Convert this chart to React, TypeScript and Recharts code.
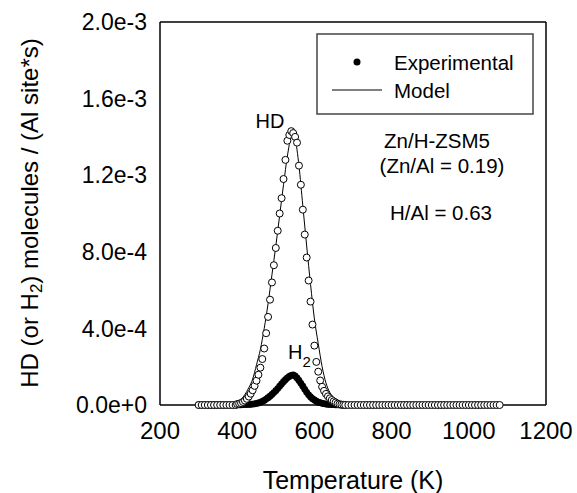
import React from "react";
import { ComposedChart, XAxis, YAxis, Scatter, Line } from "recharts";

// Temperatures of the experimental points (K)
const expTemps = [
  300, 308, 316, 324, 332, 340, 348, 356, 364, 372, 380, 388, 396,
  400, 405, 410, 415, 420, 425, 430, 435, 440, 445,
  450, 455, 460, 465, 470, 475, 480, 485, 490, 495,
  500, 505, 510, 515, 520, 525, 530, 535, 540, 545,
  550, 555, 560, 565, 570, 575, 580, 585, 590, 595,
  600, 605, 610, 615, 620, 625, 630, 635, 640, 645,
  650, 655, 660, 665, 670, 675, 680,
  688, 696, 704, 712, 720, 728, 736, 744, 752, 760, 768, 776, 784, 792, 800,
  808, 816, 824, 832, 840, 848, 856, 864, 872, 880, 888, 896, 904, 912, 920,
  928, 936, 944, 952, 960, 968, 976, 984, 992, 1000, 1008, 1016, 1024, 1032,
  1040, 1048, 1056, 1064, 1072, 1080,
];

// HD experimental (open circles)
const hdValues = [
  0, 0, 0, 0, 0, 0, 0, 0, 0, 0, 0, 0, 0,
  0.000005, 0.000007, 0.00001, 0.000016, 0.000023, 0.000032, 0.000044, 0.000059, 0.000077, 0.0001,
  0.000127, 0.000158, 0.000195, 0.00024, 0.000295, 0.000375, 0.00046, 0.00055, 0.00064, 0.00073,
  0.00082, 0.00091, 0.001, 0.00108, 0.00118, 0.00128, 0.00138, 0.00141, 0.00143, 0.00142,
  0.0014, 0.00137, 0.00125, 0.00115, 0.00102, 0.00089, 0.00077, 0.00065, 0.00054, 0.00042,
  0.00031, 0.000225, 0.000174, 0.000128, 0.000095, 0.000074, 0.000058, 0.000045, 0.000035, 0.000026,
  0.000019, 0.000013, 0.000007, 0.000004, 0.000002, 0.000001, 0,
  0, 0, 0, 0, 0, 0, 0, 0, 0, 0, 0, 0, 0, 0, 0,
  0, 0, 0, 0, 0, 0, 0, 0, 0, 0, 0, 0, 0, 0, 0,
  0, 0, 0, 0, 0, 0, 0, 0, 0, 0, 0, 0, 0, 0,
  0, 0, 0, 0, 0, 0,
];

// H2 experimental (filled circles), same temperatures up to 680 K
const h2Values = [
  0, 0, 0, 0, 0, 0, 0, 0, 0, 0, 0, 0, 0,
  0.000001, 0.000001, 0.000001, 0.000002, 0.000002, 0.000003, 0.000003, 0.000004, 0.000005, 0.000006,
  0.000008, 0.000011, 0.000014, 0.000019, 0.000024, 0.000031, 0.000038, 0.000046, 0.000055, 0.000065,
  0.000075, 0.000086, 0.000098, 0.00011, 0.000122, 0.000132, 0.000142, 0.000149, 0.000155, 0.000157,
  0.000152, 0.000141, 0.000128, 0.000113, 0.000098, 0.000082, 0.000066, 0.000053, 0.000042, 0.000033,
  0.000026, 0.00002, 0.000015, 0.000012, 0.000009, 0.000007, 0.000005, 0.000004, 0.000003, 0.000002,
  0.000002, 0.000001, 0.000001, 0.000001, 0, 0, 0,
];

// Model curve for HD
const modelTemps = [
  300, 380, 390, 400, 410, 420, 430, 440, 450, 460, 470, 480, 490, 500, 510, 520,
  530, 540, 545, 550, 560, 570, 580, 590, 600, 610, 620, 630, 640, 650, 660, 670,
  680, 700, 1080,
];
const modelValues = [
  0, 0.000005, 0.00001, 0.000018, 0.00003, 0.000055, 0.00009, 0.000135, 0.00021,
  0.00029, 0.0004, 0.00053, 0.00068, 0.00083, 0.00099, 0.00115, 0.0013, 0.0014,
  0.00141, 0.00139, 0.00125, 0.00104, 0.00083, 0.00063, 0.00045, 0.00032, 0.0002,
  0.000115, 0.000065, 0.000035, 0.000017, 0.000008, 0.000004, 0.000001, 0,
];

const xTicks = [200, 400, 600, 800, 1000, 1200];
const yTicks = [0, 0.0004, 0.0008, 0.0012, 0.0016, 0.002];

const FONT = "'Liberation Sans', Arial, sans-serif";
const AXIS = { stroke: "#000", strokeWidth: 1.5 };

const hdData = expTemps.map((t, i) => ({ t, v: hdValues[i] }));
const h2Data = h2Values.map((v, i) => ({ t: expTemps[i], v }));
const modelData = modelTemps.map((t, i) => ({ t, v: modelValues[i] }));

const OpenCircle = (p: any) => (
  <circle cx={p.cx} cy={p.cy} r={3.5} fill="#fff" stroke="#000" strokeWidth={1} />
);
const FilledCircle = (p: any) => <circle cx={p.cx} cy={p.cy} r={3.4} fill="#000" />;

export default function App() {
  return (
    <div style={{ position: "relative", width: 577, height: 493, background: "#fff", fontFamily: FONT }}>
      <style>{`body{margin:0;background:#fff}`}</style>
      <ComposedChart width={577} height={493} margin={{ top: 22, right: 31, bottom: 0, left: 0 }}>
        <XAxis
          xAxisId={0}
          type="number"
          dataKey="t"
          domain={[200, 1200]}
          ticks={xTicks}
          interval={0}
          height={88}
          axisLine={AXIS}
          tickLine={false}
          tickSize={0}
          tickMargin={17}
          tick={{ fontSize: 24, fill: "#000", fontFamily: FONT }}
        />
        <XAxis xAxisId="bt" orientation="bottom" mirror type="number" domain={[200, 1200]} ticks={xTicks}
          tick={false} tickSize={5} axisLine={false} tickLine={AXIS} />
        <XAxis xAxisId="top" orientation="top" mirror type="number" domain={[200, 1200]} ticks={xTicks}
          tick={false} tickSize={5} axisLine={AXIS} tickLine={AXIS} />
        <YAxis
          yAxisId={0}
          type="number"
          dataKey="v"
          domain={[0, 0.002]}
          ticks={yTicks}
          interval={0}
          width={160}
          axisLine={AXIS}
          tickLine={false}
          tickSize={0}
          tickMargin={13}
          tickFormatter={(v: number) => v.toExponential(1)}
          tick={{ fontSize: 23, fill: "#000", fontFamily: FONT }}
        />
        <YAxis yAxisId="lt" orientation="left" mirror type="number" domain={[0, 0.002]} ticks={yTicks}
          tick={false} tickSize={5} axisLine={false} tickLine={AXIS} />
        <YAxis yAxisId="right" orientation="right" mirror type="number" domain={[0, 0.002]} ticks={yTicks}
          tick={false} tickSize={5} axisLine={AXIS} tickLine={AXIS} />
        <Scatter data={h2Data} dataKey="v" shape={FilledCircle} isAnimationActive={false} />
        <Scatter data={hdData} dataKey="v" shape={OpenCircle} isAnimationActive={false} />
        <Line data={modelData} dataKey="v" type="monotone" stroke="#000" strokeWidth={1} dot={false}
          isAnimationActive={false} />
      </ComposedChart>
      <svg width={577} height={493} style={{ position: "absolute", left: 0, top: 0, pointerEvents: "none" }}
        fontFamily={FONT} fill="#000">
        {/* legend */}
        <rect x={317} y={34} width={216} height={80} fill="#fff" stroke="#444" strokeWidth={1.5} />
        <circle cx={357} cy={62} r={3.5} fill="#000" />
        <text x={394} y={62} fontSize={20.5} dominantBaseline="central">Experimental</text>
        <line x1={332} x2={382} y1={90} y2={90} stroke="#000" strokeWidth={1} />
        <text x={394} y={90} fontSize={20.5} dominantBaseline="central">Model</text>
        {/* annotations */}
        <text x={270} y={121} fontSize={20} textAnchor="middle" dominantBaseline="central">HD</text>
        <text x={437} y={140} fontSize={20.5} textAnchor="middle" dominantBaseline="central">Zn/H-ZSM5</text>
        <text x={442} y={165} fontSize={20.5} textAnchor="middle" dominantBaseline="central">(Zn/Al = 0.19)</text>
        <text x={441} y={212} fontSize={20.5} textAnchor="middle" dominantBaseline="central">H/Al = 0.63</text>
        <text x={288} y={352} fontSize={20} dominantBaseline="central">
          H<tspan fontSize={15} dy={9}>2</tspan>
        </text>
        {/* axis titles */}
        <text x={353} y={480} fontSize={25} textAnchor="middle" dominantBaseline="central">Temperature (K)</text>
        <text x={29} y={213} fontSize={24} textAnchor="middle" dominantBaseline="central"
          transform="rotate(-90 29 213)">
          HD (or H<tspan fontSize={17} dy={7}>2</tspan><tspan dy={-7}>) molecules / (Al site*s)</tspan>
        </text>
      </svg>
    </div>
  );
}
